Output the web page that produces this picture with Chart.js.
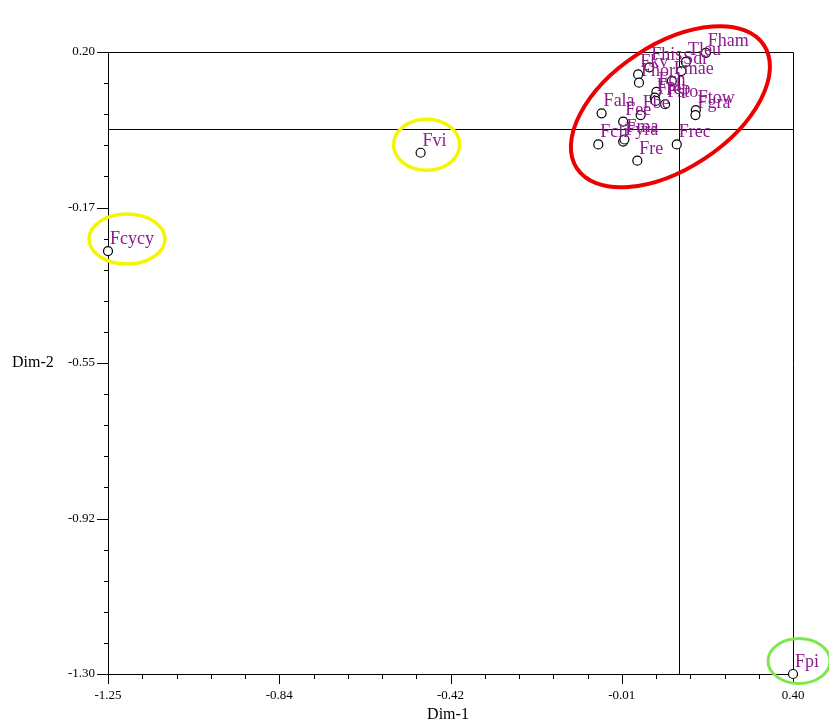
<!DOCTYPE html>
<html>
<head>
<meta charset="utf-8">
<script src="https://cdn.jsdelivr.net/npm/chart.js@4"></script>
<style>
    body { margin: 0; background: #fff; }
</style>
</head>
<body>
<canvas id="plot" width="829" height="728"></canvas>
<script>
// point names and their coordinates on the two dimensions
const names = ["Fham", "Tleu", "Sdr", "Fhis", "Fkv", "Fhor", "Fmae", "Fch", "Fpl", "Frep", "Fsto", "Ftow", "Fgra",
    "Fala", "Fbe", "Fee", "Fcli", "Fyra", "Fma", "Frec", "Fre", "Fcycy", "Fvi", "Fpi"];
const dim1 = [0.190, 0.142, 0.131, 0.054, 0.027, 0.029, 0.108, 0.071, 0.067, 0.069, 0.092, 0.166, 0.165,
    -0.061, 0.033, -0.009, -0.069, -0.009, -0.006, 0.120, 0.025, -1.25, -0.497, 0.40];
const dim2 = [0.198, 0.176, 0.154, 0.163, 0.146, 0.126, 0.130, 0.104, 0.090, 0.082, 0.074, 0.060, 0.048,
    0.052, 0.048, 0.032, -0.023, -0.016, -0.011, -0.023, -0.062, -0.280, -0.043, -1.300];

// axis ranges and tick labels
const xTicks = [-1.25, -0.8375, -0.425, -0.0125, 0.40];
const xTickLabels = ["-1.25", "-0.84", "-0.42", "-0.01", "0.40"];
const yTicks = [0.20, -0.175, -0.55, -0.925, -1.30];
const yTickLabels = ["0.20", "-0.17", "-0.55", "-0.92", "-1.30"];

// reference lines
const refX = 0.125;
const refY = 0.015;

// highlight rings drawn round some points (offsets in px)
const rings = [
    { name: "Fch", dx: 14, dy: 15, rx: 112, ry: 62, rot: -33.4, color: "#ee0000", width: 4 },
    { name: "Fcycy", dx: 19, dy: -12, rx: 38, ry: 25, rot: 0, color: "#f5f500", width: 3.5 },
    { name: "Fvi", dx: 6, dy: -8, rx: 33, ry: 25.5, rot: 0, color: "#f5f500", width: 3.5 },
    { name: "Fpi", dx: 6, dy: -13, rx: 31, ry: 22.5, rot: 0, color: "#7ce84a", width: 3 }
];

var points = dim1.map((x, i) => ({ x: x, y: dim2[i] }));

const frame = {
    id: "frame",
    beforeDatasetsDraw(chart) {
        const { ctx, chartArea: a, scales: { x, y } } = chart;
        ctx.save();
        ctx.strokeStyle = "#000";
        ctx.lineWidth = 1;
        ctx.beginPath();
        ctx.rect(a.left + 0.5, a.top + 0.5, a.right - a.left, a.bottom - a.top);
        // reference lines
        let rx = Math.round(x.getPixelForValue(refX)) + 0.5;
        let ry = Math.round(y.getPixelForValue(refY)) + 0.5;
        ctx.moveTo(rx, a.top);
        ctx.lineTo(rx, a.bottom);
        ctx.moveTo(a.left, ry);
        ctx.lineTo(a.right, ry);
        ctx.stroke();

        // tick marks, major and 4 minor between
        ctx.beginPath();
        for (var i = 0; i < xTicks.length; i++) {
            let px = Math.round(x.getPixelForValue(xTicks[i])) + 0.5;
            ctx.moveTo(px, a.bottom);
            ctx.lineTo(px, a.bottom + 10);
            if (i < xTicks.length - 1) {
                for (var k = 1; k < 5; k++) {
                    let v = xTicks[i] + (xTicks[i + 1] - xTicks[i]) * k / 5;
                    let mx = Math.round(x.getPixelForValue(v)) + 0.5;
                    ctx.moveTo(mx, a.bottom);
                    ctx.lineTo(mx, a.bottom + 5);
                }
            }
        }
        for (var i = 0; i < yTicks.length; i++) {
            let py = Math.round(y.getPixelForValue(yTicks[i])) + 0.5;
            ctx.moveTo(a.left, py);
            ctx.lineTo(a.left - 11, py);
            if (i < yTicks.length - 1) {
                for (var k = 1; k < 5; k++) {
                    let v = yTicks[i] + (yTicks[i + 1] - yTicks[i]) * k / 5;
                    let my = Math.round(y.getPixelForValue(v)) + 0.5;
                    ctx.moveTo(a.left, my);
                    ctx.lineTo(a.left - 4, my);
                }
            }
        }
        ctx.stroke();

        // axis titles
        ctx.fillStyle = "#000";
        ctx.font = "16px 'Liberation Serif'";
        ctx.textBaseline = "middle";
        ctx.textAlign = "left";
        ctx.fillText("Dim-2", 12, (a.top + a.bottom) / 2);
        ctx.textAlign = "center";
        ctx.fillText("Dim-1", 448, 715);
        ctx.restore();
    },
    afterDatasetsDraw(chart) {
        const { ctx, scales: { x, y } } = chart;
        ctx.save();
        // point labels
        ctx.fillStyle = "#8c1c8c";
        ctx.font = "18px 'Liberation Serif'";
        ctx.textAlign = "left";
        ctx.textBaseline = "alphabetic";
        names.forEach((n, i) => {
            ctx.fillText(n, x.getPixelForValue(dim1[i]) + 2, y.getPixelForValue(dim2[i]) - 7);
        });
        // rings
        rings.forEach((r) => {
            let i = names.indexOf(r.name);
            let cx = x.getPixelForValue(dim1[i]) + r.dx;
            let cy = y.getPixelForValue(dim2[i]) + r.dy;
            ctx.beginPath();
            ctx.ellipse(cx, cy, r.rx, r.ry, r.rot * Math.PI / 180, 0, Math.PI * 2);
            ctx.strokeStyle = r.color;
            ctx.lineWidth = r.width;
            ctx.stroke();
        });
        ctx.restore();
    }
};

new Chart(document.getElementById("plot"), {
    type: "scatter",
    data: {
        datasets: [{
            data: points,
            pointRadius: 4.5,
            pointHoverRadius: 4.5,
            pointBackgroundColor: "#fff",
            pointBorderColor: "#000",
            pointBorderWidth: 1.2,
            clip: false
        }]
    },
    options: {
        responsive: false,
        animation: false,
        events: [],
        layout: { padding: { left: 0, right: 36, top: 52, bottom: 0 } },
        plugins: {
            legend: { display: false },
            tooltip: { enabled: false }
        },
        scales: {
            x: {
                type: "linear",
                min: -1.25,
                max: 0.40,
                afterBuildTicks: (s) => { s.ticks = xTicks.map((v) => ({ value: v })); },
                afterFit: (s) => { s.height = 54; },
                ticks: {
                    autoSkip: false,
                    maxRotation: 0,
                    padding: 4,
                    color: "#000",
                    font: { family: "Liberation Serif", size: 13 },
                    callback: (v, i) => xTickLabels[i]
                },
                grid: { display: false, drawTicks: true, tickLength: 10 },
                border: { display: false }
            },
            y: {
                type: "linear",
                min: -1.30,
                max: 0.20,
                afterBuildTicks: (s) => { s.ticks = yTicks.map((v) => ({ value: v })); },
                afterFit: (s) => { s.width = 108; },
                ticks: {
                    autoSkip: false,
                    padding: 2,
                    color: "#000",
                    font: { family: "Liberation Serif", size: 13 },
                    callback: (v, i) => yTickLabels[i]
                },
                grid: { display: false, drawTicks: true, tickLength: 11 },
                border: { display: false }
            }
        }
    },
    plugins: [frame]
});
</script>
</body>
</html>
